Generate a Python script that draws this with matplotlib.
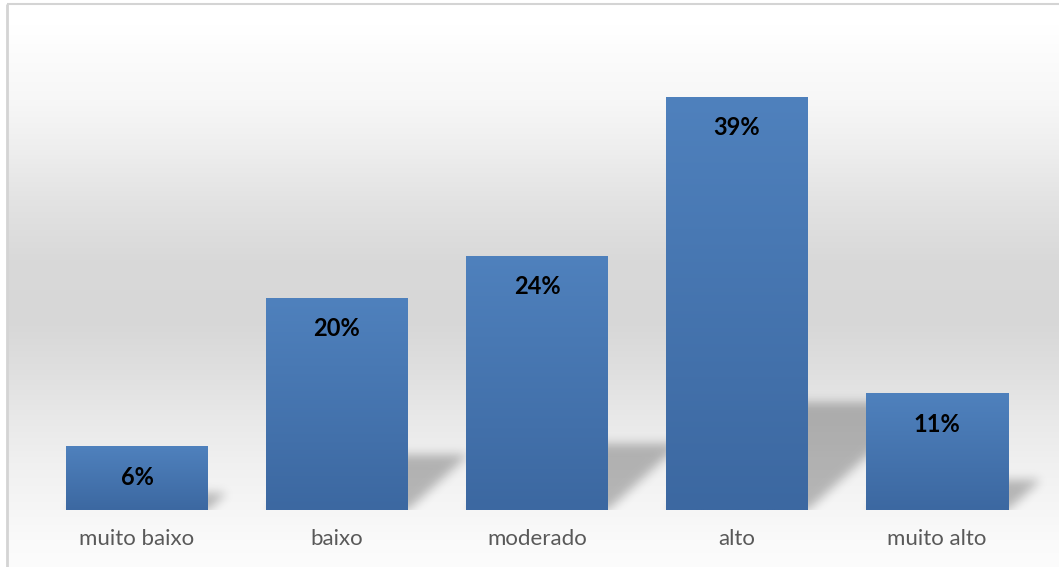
import numpy as np
import matplotlib
matplotlib.use("Agg")
import matplotlib.pyplot as plt

categories = ["muito baixo", "baixo", "moderado", "alto", "muito alto"]
percent = [6, 20, 24, 39, 11]

W, H, DPI = 1059, 567, 100
plt.rcParams["font.family"] = ["Lato", "DejaVu Sans"]

fig = plt.figure(figsize=(W / DPI, H / DPI), dpi=DPI)
fig.patch.set_facecolor("white")

# ---- chart-area background: soft vertical grey gradient + light frame ----
bg = fig.add_axes([0, 0, 1, 1], zorder=-10)
bg.set_xlim(0, W)
bg.set_ylim(H, 0)
bg.axis("off")
stops_y = [4, 25, 100, 150, 200, 260, 320, 370, 420, 470, 510, 540, 567]
stops_v = [255, 255, 247, 238, 227, 217, 215, 223, 233, 241, 246, 250, 252]
rows = np.linspace(4, H, 600)
shade = np.interp(rows, stops_y, stops_v) / 255.0
grad = np.dstack([np.repeat(shade[:, None], 2, axis=1)] * 3)
bg.imshow(grad, extent=(7, W, H, 4), aspect="auto", interpolation="bilinear")
bg.plot([7, 7], [4, H], color="#d4d4d4", lw=2, solid_capstyle="butt")
bg.plot([7, W], [4, 4], color="#d4d4d4", lw=1.5, solid_capstyle="butt")

# ---- plot area ----
ax = fig.add_axes([37 / W, 57 / H, 1000 / W, 477 / H])
ax.patch.set_alpha(0)
x = np.arange(len(categories))
bar_w = 0.71
ax.set_xlim(-0.5, len(categories) - 0.5)
ax.set_ylim(0, 45)

bars = ax.bar(x, percent, width=bar_w, color="none", edgecolor="none", zorder=3)

# vertical gradient fill inside each bar
top_c = np.array([0x4F, 0x81, 0xBD]) / 255.0
bot_c = np.array([0x3C, 0x68, 0xA1]) / 255.0
t = np.linspace(0, 1, 256)[:, None, None]
bar_grad = (top_c[None, None, :] * (1 - t) + bot_c[None, None, :] * t)
bar_grad = np.repeat(bar_grad, 2, axis=1)
for b in bars:
    x0, y0 = b.get_x(), b.get_y()
    im = ax.imshow(bar_grad, extent=(x0, x0 + b.get_width(), y0, y0 + b.get_height()),
                   aspect="auto", interpolation="bilinear", zorder=3, origin="upper")
    im.set_clip_path(b)

# ---- perspective drop shadows (skewed to the upper right, blurred) ----
px_per_x = 1000 / (len(categories))
px_per_y = 477 / 45.0
sx0, sx1 = -0.5, len(categories) - 0.5 + 0.3
sy0, sy1 = 0.0, 14.0
nx = int(round((sx1 - sx0) * px_per_x))
ny = int(round((sy1 - sy0) * px_per_y))
gx = sx0 + (np.arange(nx) + 0.5) / px_per_x
gy = sy0 + (np.arange(ny) + 0.5) / px_per_y
GX, GY = np.meshgrid(gx, gy)
mask = np.zeros_like(GX)
squash, skew = 0.26, 1.1
for xi, v in zip(x, percent):
    h_px = v * px_per_y * squash
    yp = GY * px_per_y
    shift = skew * yp / px_per_x
    inside = (yp <= h_px) & (GX >= xi - bar_w / 2 + shift) & (GX <= xi + bar_w / 2 + shift)
    mask[inside] = 1.0

sigma = 5.0
k = np.arange(-15, 16)
kern = np.exp(-0.5 * (k / sigma) ** 2)
kern /= kern.sum()
blur = np.apply_along_axis(lambda r: np.convolve(r, kern, mode="same"), 1, mask)
blur = np.apply_along_axis(lambda c: np.convolve(c, kern, mode="same"), 0, blur)
shadow = np.zeros((ny, nx, 4))
shadow[..., 3] = 0.26 * blur
ax.imshow(shadow, extent=(sx0, sx1, sy0, sy1), origin="lower", aspect="auto",
          interpolation="bilinear", zorder=2, clip_on=False)
ax.set_xlim(-0.5, len(categories) - 0.5)
ax.set_ylim(0, 45)

# value labels inside the bars
for xi, v in zip(x, percent):
    ax.annotate(f"{v}%", xy=(xi, v), xytext=(0, -31), textcoords="offset pixels",
                ha="center", va="center", fontsize=17, fontweight="bold",
                color="black", zorder=5)

ax.set_xticks(x, categories)
ax.tick_params(axis="x", length=0, pad=14, labelsize=16, labelcolor="#595959")
ax.set_yticks([])
for s in ax.spines.values():
    s.set_visible(False)

fig.savefig("out.png", dpi=DPI)
